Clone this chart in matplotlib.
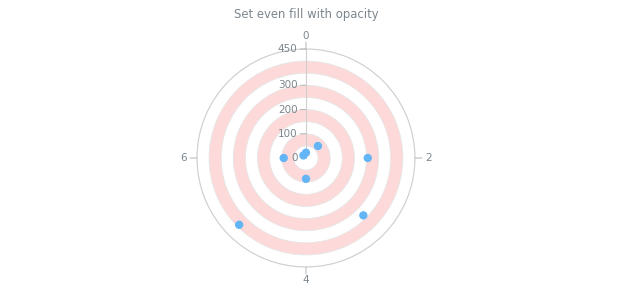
import numpy as np
import matplotlib
matplotlib.use('Agg')
import matplotlib.pyplot as plt

# data
x_vals = [0, 1, 2, 3, 4, 5, 6, 7]
y_vals = [22, 70, 255, 335, 86, 390, 92, 15]

x_max = 8
y_max = 450
x_ticks = [0, 2, 4, 6]
y_label_vals = [0, 100, 200, 300, 450]
band_edges = [0, 50, 100, 150, 200, 250, 300, 350, 400, 450]

grey = '#7c868e'
pink = '#fdd9d9'
blue = '#64b5f6'

fig = plt.figure(figsize=(6.2, 3.0), dpi=100)
fig.text(0.4935, 0.953, 'Set even fill with opacity', ha='center', va='center',
         fontsize=8.4, color=grey)

ax = fig.add_axes([0.3177, 0.11, 0.3516, 0.7267], projection='polar')
ax.set_theta_zero_location('N')
ax.set_theta_direction(-1)
ax.set_ylim(0, y_max)
ax.set_xlim(0, 2 * np.pi)

def to_theta(v):
    return np.asarray(v, dtype=float) / x_max * 2 * np.pi

# even bands filled
for i in range(len(band_edges) - 1):
    if i % 2 == 1:
        ax.bar(0, band_edges[i + 1] - band_edges[i], width=2 * np.pi,
               bottom=band_edges[i], color=pink, edgecolor='none',
               align='edge', zorder=1)

# radial grid circles
ax.set_yticks(band_edges)
ax.set_yticklabels([])
ax.yaxis.grid(True, color='#e6e6e6', linewidth=0.6, zorder=2)
ax.xaxis.grid(False)

# y axis line at x = 0
ax.plot([0, 0], [0, y_max], color='#cfcfcf', linewidth=0.8, zorder=3)
for v in y_label_vals:
    ax.annotate(str(v), xy=(0, v), xytext=(-6, 0), textcoords='offset points',
                ha='right', va='center', fontsize=7.5, color=grey, zorder=4)
    if v > 0:
        ax.annotate('', xy=(0, v), xytext=(-4, 0), textcoords='offset points',
                    arrowprops=dict(arrowstyle='-', color='#bdbdbd', lw=0.8,
                                    shrinkA=0, shrinkB=0))

# x axis labels and small outward tick marks
ax.set_xticks(to_theta(x_ticks))
ax.set_xticklabels([str(t) for t in x_ticks])
ax.tick_params(axis='x', labelcolor=grey, labelsize=7.5, pad=2.5, length=0)
for t in to_theta(x_ticks):
    ax.annotate('', xy=(t, y_max), xytext=(5 * np.sin(t), 5 * np.cos(t)),
                textcoords='offset points', annotation_clip=False,
                arrowprops=dict(arrowstyle='-', color='#bdbdbd', lw=0.8,
                                shrinkA=0, shrinkB=0))
ax.spines['polar'].set_color('#cfcfcf')
ax.spines['polar'].set_linewidth(0.8)

ax.scatter(to_theta(x_vals), y_vals, s=36, color=blue, edgecolors='none',
           zorder=5, clip_on=False)

fig.savefig('out.png', dpi=100)
